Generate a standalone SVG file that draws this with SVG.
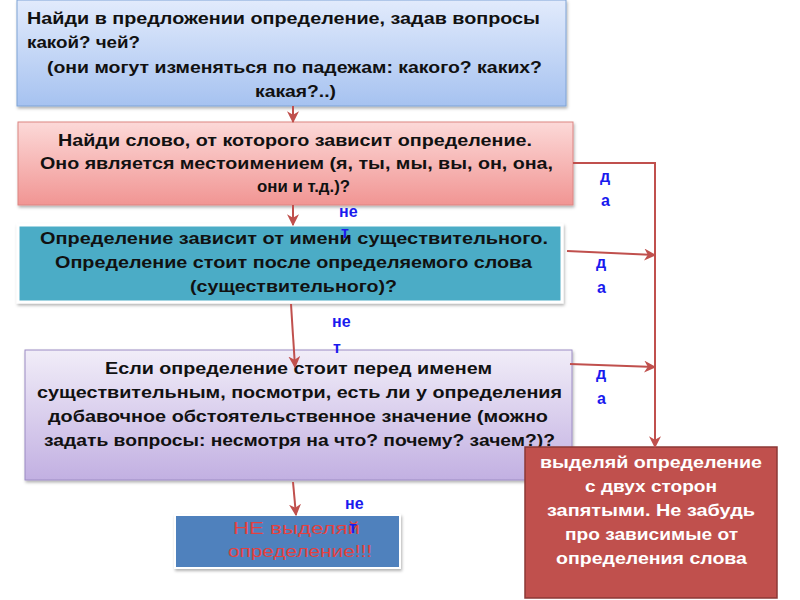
<svg xmlns="http://www.w3.org/2000/svg" width="800" height="600" viewBox="0 0 800 600">
<defs>
<linearGradient id="g1" x1="0" y1="0" x2="0" y2="1"><stop offset="0" stop-color="#e2ebfc"/><stop offset="1" stop-color="#a6c2f0"/></linearGradient>
<linearGradient id="g2" x1="0" y1="0" x2="0" y2="1"><stop offset="0" stop-color="#fcd9d8"/><stop offset="1" stop-color="#f19593"/></linearGradient>
<linearGradient id="g4" x1="0" y1="0" x2="0" y2="1"><stop offset="0" stop-color="#f1edf8"/><stop offset="1" stop-color="#c2b0e2"/></linearGradient>
<filter id="sh" x="-5%" y="-5%" width="110%" height="120%"><feDropShadow dx="1" dy="2" stdDeviation="1.5" flood-color="#000" flood-opacity="0.3"/></filter>
<marker id="ah" viewBox="0 0 10 10" refX="9" refY="5" markerWidth="6" markerHeight="6" orient="auto" markerUnits="strokeWidth">
<path d="M0,0 L10,5 L0,10 L3,5 Z" fill="#c0504d"/>
</marker>
</defs>
<style>
.t{font-family:"Liberation Sans","Noto Sans",sans-serif;font-weight:bold;font-size:17px;fill:#111}
.w{fill:#fff}
.lab{font-family:"Liberation Sans","Noto Sans",sans-serif;font-weight:bold;font-size:16px;fill:#1a1aee}
.red{font-family:"Liberation Sans","Noto Sans",sans-serif;font-size:17px;fill:#e3413f}
.con{stroke:#c0504d;stroke-width:2;fill:none}
</style>
<rect width="800" height="600" fill="#fff"/>

<g id="n1">
<rect x="17" y="0" width="549" height="106" fill="url(#g1)" stroke="#7ea3d6" stroke-width="1" filter="url(#sh)"/>
<text class="t" x="27" y="24" textLength="513" lengthAdjust="spacingAndGlyphs">Найди в предложении определение, задав вопросы</text>
<text class="t" x="27" y="48" textLength="113" lengthAdjust="spacingAndGlyphs">какой? чей?</text>
<text class="t" x="47" y="73" textLength="495" lengthAdjust="spacingAndGlyphs">(они могут изменяться по падежам: какого? каких?</text>
<text class="t" x="255" y="97" textLength="81" lengthAdjust="spacingAndGlyphs">какая?..)</text>
</g>

<g id="n2">
<rect x="18" y="122" width="555" height="83" fill="url(#g2)" stroke="#dc8582" stroke-width="1" filter="url(#sh)"/>
<text class="t" x="58" y="146" textLength="474" lengthAdjust="spacingAndGlyphs">Найди слово, от которого  зависит определение.</text>
<text class="t" x="40" y="169" textLength="513" lengthAdjust="spacingAndGlyphs">Оно является местоимением (я, ты, мы, вы, он, она,</text>
<text class="t" x="257" y="192" textLength="93" lengthAdjust="spacingAndGlyphs">они и т.д.)?</text>
</g>

<g id="n3">
<rect x="18" y="225" width="544" height="77" fill="#4bacc6" stroke="#fff" stroke-width="3" filter="url(#sh)"/>
<text class="t" x="40" y="244" textLength="508" lengthAdjust="spacingAndGlyphs">Определение зависит от имени существительного.</text>
<text class="t" x="55" y="268" textLength="477" lengthAdjust="spacingAndGlyphs">Определение стоит после определяемого слова</text>
<text class="t" x="190" y="292" textLength="207" lengthAdjust="spacingAndGlyphs">(существительного)?</text>
</g>

<g id="n4">
<rect x="25" y="350" width="547" height="130" fill="url(#g4)" stroke="#9c8cc4" stroke-width="1" filter="url(#sh)"/>
<text class="t" x="105" y="374" textLength="387" lengthAdjust="spacingAndGlyphs">Если определение стоит перед именем</text>
<text class="t" x="37" y="398" textLength="525" lengthAdjust="spacingAndGlyphs">существительным, посмотри, есть ли у определения</text>
<text class="t" x="48" y="422" textLength="500" lengthAdjust="spacingAndGlyphs">добавочное обстоятельственное значение (можно</text>
<text class="t" x="44" y="446" textLength="511" lengthAdjust="spacingAndGlyphs">задать вопросы: несмотря на что? почему? зачем?)?</text>
</g>

<g id="n5">
<rect x="175" y="515" width="225" height="53" fill="#4f81bd" stroke="#fff" stroke-width="2" filter="url(#sh)"/>
<text class="red" x="233" y="534" textLength="127" lengthAdjust="spacingAndGlyphs">НЕ выделяй</text>
<text class="red" x="228" y="557" textLength="144" lengthAdjust="spacingAndGlyphs">определение!!!</text>
</g>

<g id="n6">
<rect x="525" y="447" width="252" height="151" fill="#c0504d" stroke="#8c3836" stroke-width="1.5"/>
<text class="t w" x="540" y="468" textLength="222" lengthAdjust="spacingAndGlyphs">выделяй определение</text>
<text class="t w" x="585" y="492" textLength="132" lengthAdjust="spacingAndGlyphs">с двух сторон</text>
<text class="t w" x="547" y="516" textLength="208" lengthAdjust="spacingAndGlyphs">запятыми. Не забудь</text>
<text class="t w" x="565" y="540" textLength="173" lengthAdjust="spacingAndGlyphs">про зависимые от</text>
<text class="t w" x="556" y="564" textLength="191" lengthAdjust="spacingAndGlyphs">определения слова</text>
</g>

<g id="connectors">
<line class="con" x1="293" y1="106" x2="293" y2="122" marker-end="url(#ah)"/>
<line class="con" x1="293" y1="205" x2="293" y2="225" marker-end="url(#ah)"/>
<line class="con" x1="291" y1="304" x2="295" y2="367" marker-end="url(#ah)"/>
<line class="con" x1="293" y1="482" x2="296" y2="515" marker-end="url(#ah)"/>
<polyline class="con" points="573,163 655,163 655,447" marker-end="url(#ah)"/>
<line class="con" x1="567" y1="251" x2="655" y2="255" marker-end="url(#ah)"/>
<line class="con" x1="570" y1="364" x2="655" y2="367" marker-end="url(#ah)"/>
</g>

<g id="labels">
<text class="lab" x="339" y="217">не</text>
<text class="lab" x="341" y="238">т</text>
<text class="lab" x="332" y="327">не</text>
<text class="lab" x="333" y="353">т</text>
<text class="lab" x="345" y="509">не</text>
<text class="lab" x="349" y="533">т</text>
<text class="lab" x="600" y="182">д</text>
<text class="lab" x="601" y="206">а</text>
<text class="lab" x="596" y="268">д</text>
<text class="lab" x="597" y="293">а</text>
<text class="lab" x="596" y="379">д</text>
<text class="lab" x="597" y="404">а</text>
</g>
</svg>
